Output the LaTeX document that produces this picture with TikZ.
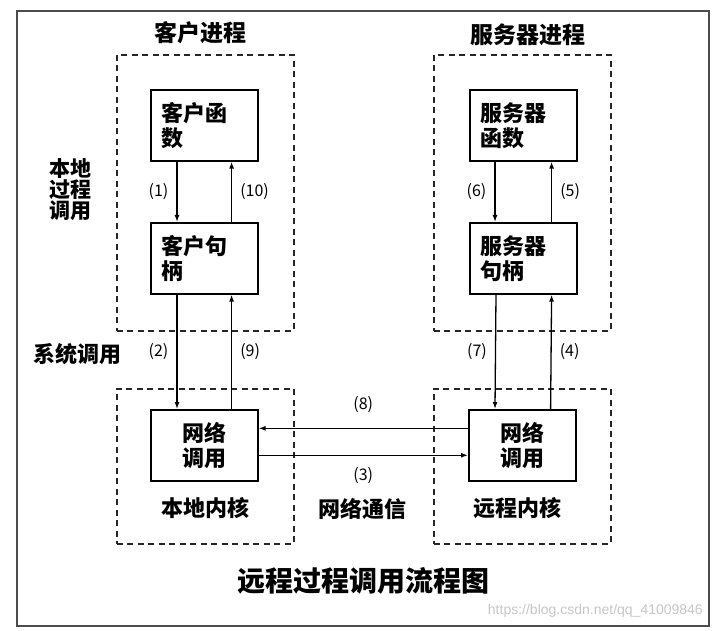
\documentclass[tikz,border=0pt]{standalone}
\usepackage{fontspec}
\setmainfont{Noto Sans CJK SC}
\newfontfamily\urlfont{Liberation Sans}
\usetikzlibrary{arrows.meta,positioning,calc}

\begin{document}
\begin{tikzpicture}[x=1pt,y=-1pt,
  grp/.style={draw=black!85,line width=1.7pt,dash pattern=on 6pt off 4.5pt,
              anchor=north west,minimum width=177pt,minimum height=276pt,inner sep=0pt},
  box/.style={draw,line width=1.6pt,anchor=north west,minimum height=71pt,
              inner xsep=11pt,text width=85pt,align=left,
              font=\fontsize{22}{25}\selectfont\bfseries},
  ar/.style={-{Latex[length=7pt,width=5pt]},line width=1.3pt},
  num/.style={font=\fontsize{16}{18}\selectfont,inner sep=2pt},
  hd/.style={font=\fontsize{22}{22}\selectfont\bfseries,align=center,inner sep=0pt},
]
\useasboundingbox (0,0) rectangle (713,631);
\draw[gray!60!black,line width=1.8pt] (17,11) rectangle (709,626);
% ============ dashed regions ============
\node[grp] (cproc) at (116,54) {};
\node[grp] (sproc) at (433,54) {};
\node[grp,minimum height=155pt] (ckern) at (116,388) {};
\node[grp,minimum height=155pt] (skern) at (433,388) {};
% ============ boxes ============
\node[box] (cfun) at (150,89) {客户函\\数};
\node[box] (cstub) at (150,222) {客户句\\柄};
\node[box] (sfun) at (469,89) {服务器\\函数};
\node[box] (sstub) at (469,222) {服务器\\句柄};
\node[box,align=center] (cnet) at (150,409) {网络\\调用};
\node[box,align=center] (snet) at (468,409) {网络\\调用};
% ============ client side calls ============
\draw[ar] ([xshift=27pt]cfun.south west) -- node[num,left,xshift=-6pt] {(1)} ([xshift=27pt]cstub.north west);
\draw[ar] ([xshift=-27pt]cstub.north east) -- node[num,right,xshift=6pt] {(10)} ([xshift=-27pt]cfun.south east);
\draw[ar] ([xshift=27pt]cstub.south west) -- node[num,left,xshift=-6pt] {(2)} ([xshift=27pt]cnet.north west);
\draw[ar] ([xshift=-27pt]cnet.north east) -- node[num,right,xshift=6pt] {(9)} ([xshift=-27pt]cstub.south east);
% ============ server side calls ============
\draw[ar] ([xshift=26pt]sfun.south west) -- node[num,left,xshift=-6pt] {(6)} ([xshift=26pt]sstub.north west);
\draw[ar] ([xshift=-26pt]sstub.north east) -- node[num,right,xshift=6pt] {(5)} ([xshift=-26pt]sfun.south east);
\draw[ar] ([xshift=27pt]sstub.south west) -- node[num,left,xshift=-6pt] {(7)} ([xshift=27pt]snet.north west);
\draw[ar] ([xshift=-26pt]snet.north east) -- node[num,right,xshift=6pt] {(4)} ([xshift=-26pt]sstub.south east);
% ============ network ============
\draw[ar] ([yshift=17pt]snet.west) -- node[num,above=13pt] {(8)} ([yshift=17pt]cnet.east);
\draw[ar] ([yshift=-10pt]cnet.east) -- node[num,below=9pt] {(3)} ([yshift=-10pt]snet.west);
% ============ labels ============
\node[hd,font=\fontsize{23}{23}\selectfont\bfseries] (chd) at (200,33) {客户进程};
\node[hd,font=\fontsize{23}{23}\selectfont\bfseries] (shd) at (528,35) {服务器进程};
\node[hd,font=\fontsize{21}{21}\selectfont\bfseries] (lpc) at (70,190) {本地\\过程\\调用};
\node[hd] (sys) at (78,354) {系统调用};
\node[hd] (lk) at (205,508) {本地内核};
\node[hd] (nc) at (362,509) {网络通信};
\node[hd] (rk) at (517,508) {远程内核};
\node[hd,font=\fontsize{28}{28}\selectfont\bfseries] (title) at (363,581) {远程过程调用流程图};
\node[anchor=east,inner sep=0pt,text=gray!45,font=\urlfont\fontsize{14}{14}\selectfont]
  (wm) at (703,611) {https://blog.csdn.net/qq\_41009846};
\end{tikzpicture}
\end{document}
